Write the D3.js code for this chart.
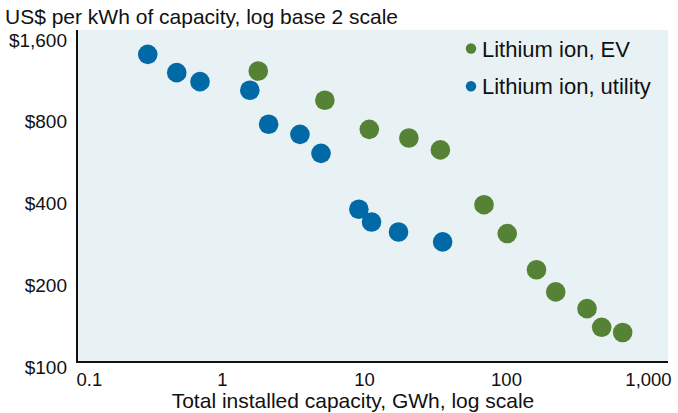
<!DOCTYPE html>
<html>
<head>
<meta charset="utf-8">
<script src="https://cdn.jsdelivr.net/npm/d3@7"></script>
<style>
  html, body { margin: 0; padding: 0; background: #fff; }
  svg { display: block; font-family: "Liberation Sans", Arial, sans-serif; }
</style>
</head>
<body>
<svg id="chart" width="678" height="413"></svg>
<script>
// Battery pack cost vs cumulative installed capacity
const evCapacity = [1.8, 5.3, 10.9, 20.7, 34.5, 70, 102, 164, 224, 372, 472, 663];
const evCost     = [1230, 960, 750, 697, 630, 396, 310, 228, 189, 164, 140, 134];

const utilityCapacity = [0.3, 0.48, 0.7, 1.57, 2.13, 3.54, 4.98, 9.2, 11.3, 17.5, 35.8];
const utilityCost     = [1417, 1213, 1124, 1045, 783, 719, 612, 381, 342, 314, 289];

const xTicks = [0.1, 1, 10, 100, 1000];
const yTicks = [100, 200, 400, 800, 1600];

const seriesNames = ["Lithium ion, EV", "Lithium ion, utility"];
const colors = { ev: "#558235", utility: "#0069a6" };

const svg = d3.select("#chart");

const plot = { left: 77, right: 668, top: 30, bottom: 362 };

const x = d3.scaleLog().domain([0.1, 1000]).range([80, 648]);
const y = d3.scaleLog().base(2).domain([100, 1600]).range([367, 40]);

// subtitle
svg.append("text")
  .attr("x", 5).attr("y", 24)
  .attr("font-size", 21).attr("fill", "#111")
  .text("US$ per kWh of capacity, log base 2 scale");

// plot background
svg.append("rect")
  .attr("x", plot.left).attr("y", plot.top)
  .attr("width", plot.right - plot.left).attr("height", plot.bottom - plot.top)
  .attr("fill", "#e8f1f4");

// y axis labels
const yAxis = svg.append("g")
  .attr("transform", `translate(${plot.left},0)`)
  .call(d3.axisLeft(y).tickValues(yTicks).tickSize(0).tickPadding(10)
    .tickFormat(d => "$" + d3.format(",")(d)));
yAxis.select(".domain").remove();
yAxis.selectAll("text").attr("font-size", 19).attr("fill", "#111")
  .attr("font-family", "Liberation Sans, Arial, sans-serif");

// x axis labels
const xAxis = svg.append("g")
  .attr("transform", `translate(0,${plot.bottom})`)
  .call(d3.axisBottom(x).tickValues(xTicks).tickSize(0).tickPadding(10.5)
    .tickFormat(d => d < 1 ? String(d) : d3.format(",")(d)));
xAxis.select(".domain").remove();
xAxis.selectAll("text").attr("font-size", 18.5).attr("fill", "#111")
  .attr("font-family", "Liberation Sans, Arial, sans-serif");
xAxis.selectAll(".tick").filter(d => d === 0.1).select("text")
  .attr("text-anchor", "start").attr("x", -4);

// axis lines
svg.append("path")
  .attr("d", `M${plot.left},${plot.top}V${plot.bottom}H${plot.right}`)
  .attr("fill", "none").attr("stroke", "#111").attr("stroke-width", 2);

// x axis title
svg.append("text")
  .attr("x", 353).attr("y", 407.5)
  .attr("text-anchor", "middle")
  .attr("font-size", 21).attr("fill", "#111")
  .text("Total installed capacity, GWh, log scale");

// points
const utility = utilityCapacity.map((c, i) => ({ c, v: utilityCost[i] }));
const ev = evCapacity.map((c, i) => ({ c, v: evCost[i] }));

svg.append("g").selectAll("circle").data(utility).join("circle")
  .attr("cx", d => x(d.c)).attr("cy", d => y(d.v))
  .attr("r", 9.8).attr("fill", colors.utility);

svg.append("g").selectAll("circle").data(ev).join("circle")
  .attr("cx", d => x(d.c)).attr("cy", d => y(d.v))
  .attr("r", 9.8).attr("fill", colors.ev);

// legend
const legend = svg.append("g");
[[seriesNames[0], colors.ev, 56.5], [seriesNames[1], colors.utility, 94.3]].forEach(([name, col, base]) => {
  legend.append("circle").attr("cx", 471).attr("cy", base - 8).attr("r", 5.2).attr("fill", col);
  legend.append("text").attr("x", 482).attr("y", base)
    .attr("font-size", 22).attr("fill", "#111").text(name);
});
</script>
</body>
</html>
